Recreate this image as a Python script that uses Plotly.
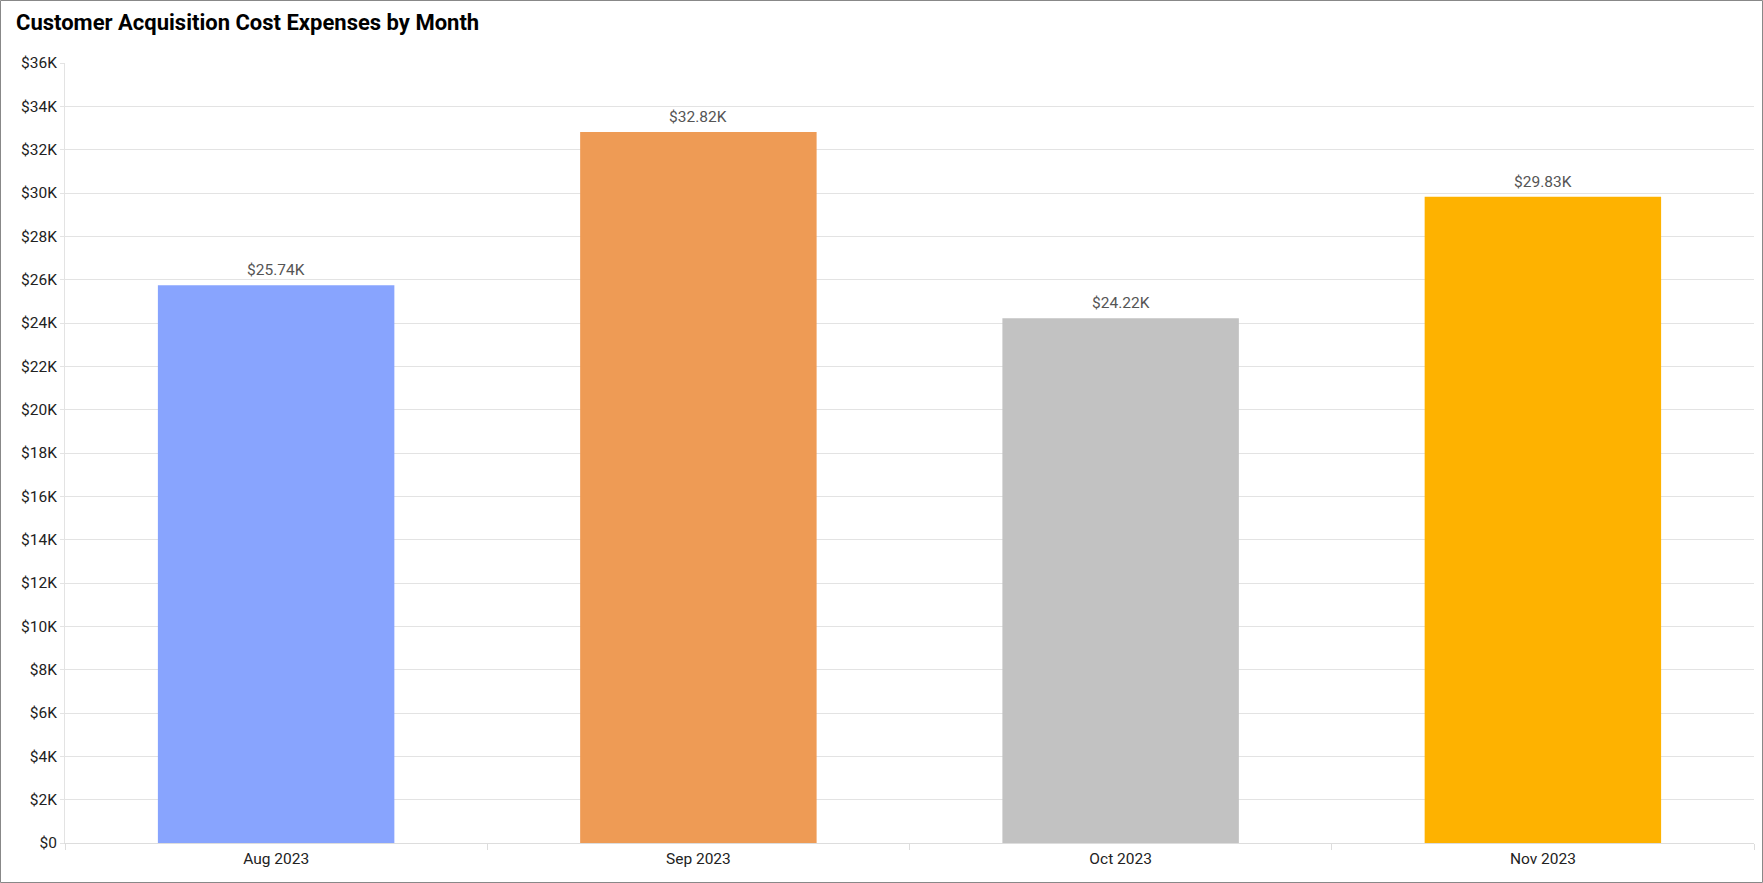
import plotly.graph_objects as go

months = ["Aug 2023", "Sep 2023", "Oct 2023", "Nov 2023"]
values = [25740, 32820, 24220, 29830]
labels = ["$25.74K", "$32.82K", "$24.22K", "$29.83K"]
colors = ["#88a4fe", "#ee9b55", "#c2c2c2", "#feb200"]
tick_vals = list(range(0, 36001, 2000))
tick_text = ["$0"] + [f"${v//1000}K" for v in tick_vals[1:]]

W, H = 1763, 883
ml, mr, mt, mb = 65, 9, 63, 40
pw, ph = W - ml - mr, H - mt - mb

fig = go.Figure(go.Bar(
    x=months, y=values, marker_color=colors, marker_line_width=0,
    hovertext=labels,
))

for m, v, t in zip(months, values, labels):
    fig.add_annotation(x=m, y=v, text=t, showarrow=False, yanchor="bottom",
                       yshift=4, font=dict(size=15.5, color="#555555", family="Roboto"))

fig.update_layout(
    width=W, height=H,
    margin=dict(l=ml, r=mr, t=mt, b=mb),
    paper_bgcolor="white", plot_bgcolor="white",
    font=dict(family="Roboto", size=16, color="#222222"),
    bargap=0.44,
    showlegend=False,
    title=dict(text="<b>Customer Acquisition Cost Expenses by Month</b>",
               x=16 / W, xanchor="left", y=1 - 22 / H, yanchor="middle",
               font=dict(size=22, color="#000000", family="Roboto")),
    xaxis=dict(showgrid=False, showline=True, linecolor="#dddddd", linewidth=1,
               ticks="outside", tickson="boundaries", ticklen=6, tickcolor="#dddddd",
               ticklabelstandoff=1,
               tickfont=dict(size=15.5, color="#222222")),
    yaxis=dict(range=[0, 36000], tickvals=tick_vals, ticktext=tick_text,
               showgrid=True, gridcolor="#e3e3e3", gridwidth=1,
               showline=True, linecolor="#e3e3e3", zeroline=False,
               ticks="outside", ticklen=4, tickcolor="#e3e3e3",
               tickfont=dict(size=15.5, color="#222222")),
)

# outer border
fig.add_shape(type="rect", xref="paper", yref="paper",
              x0=(0.5 - ml) / pw, x1=(W - 0.5 - ml) / pw,
              y0=-(mb - 0.5) / ph, y1=(ph + mt - 0.5) / ph,
              line=dict(color="#888888", width=1), layer="above")

fig.write_html("out.html")
